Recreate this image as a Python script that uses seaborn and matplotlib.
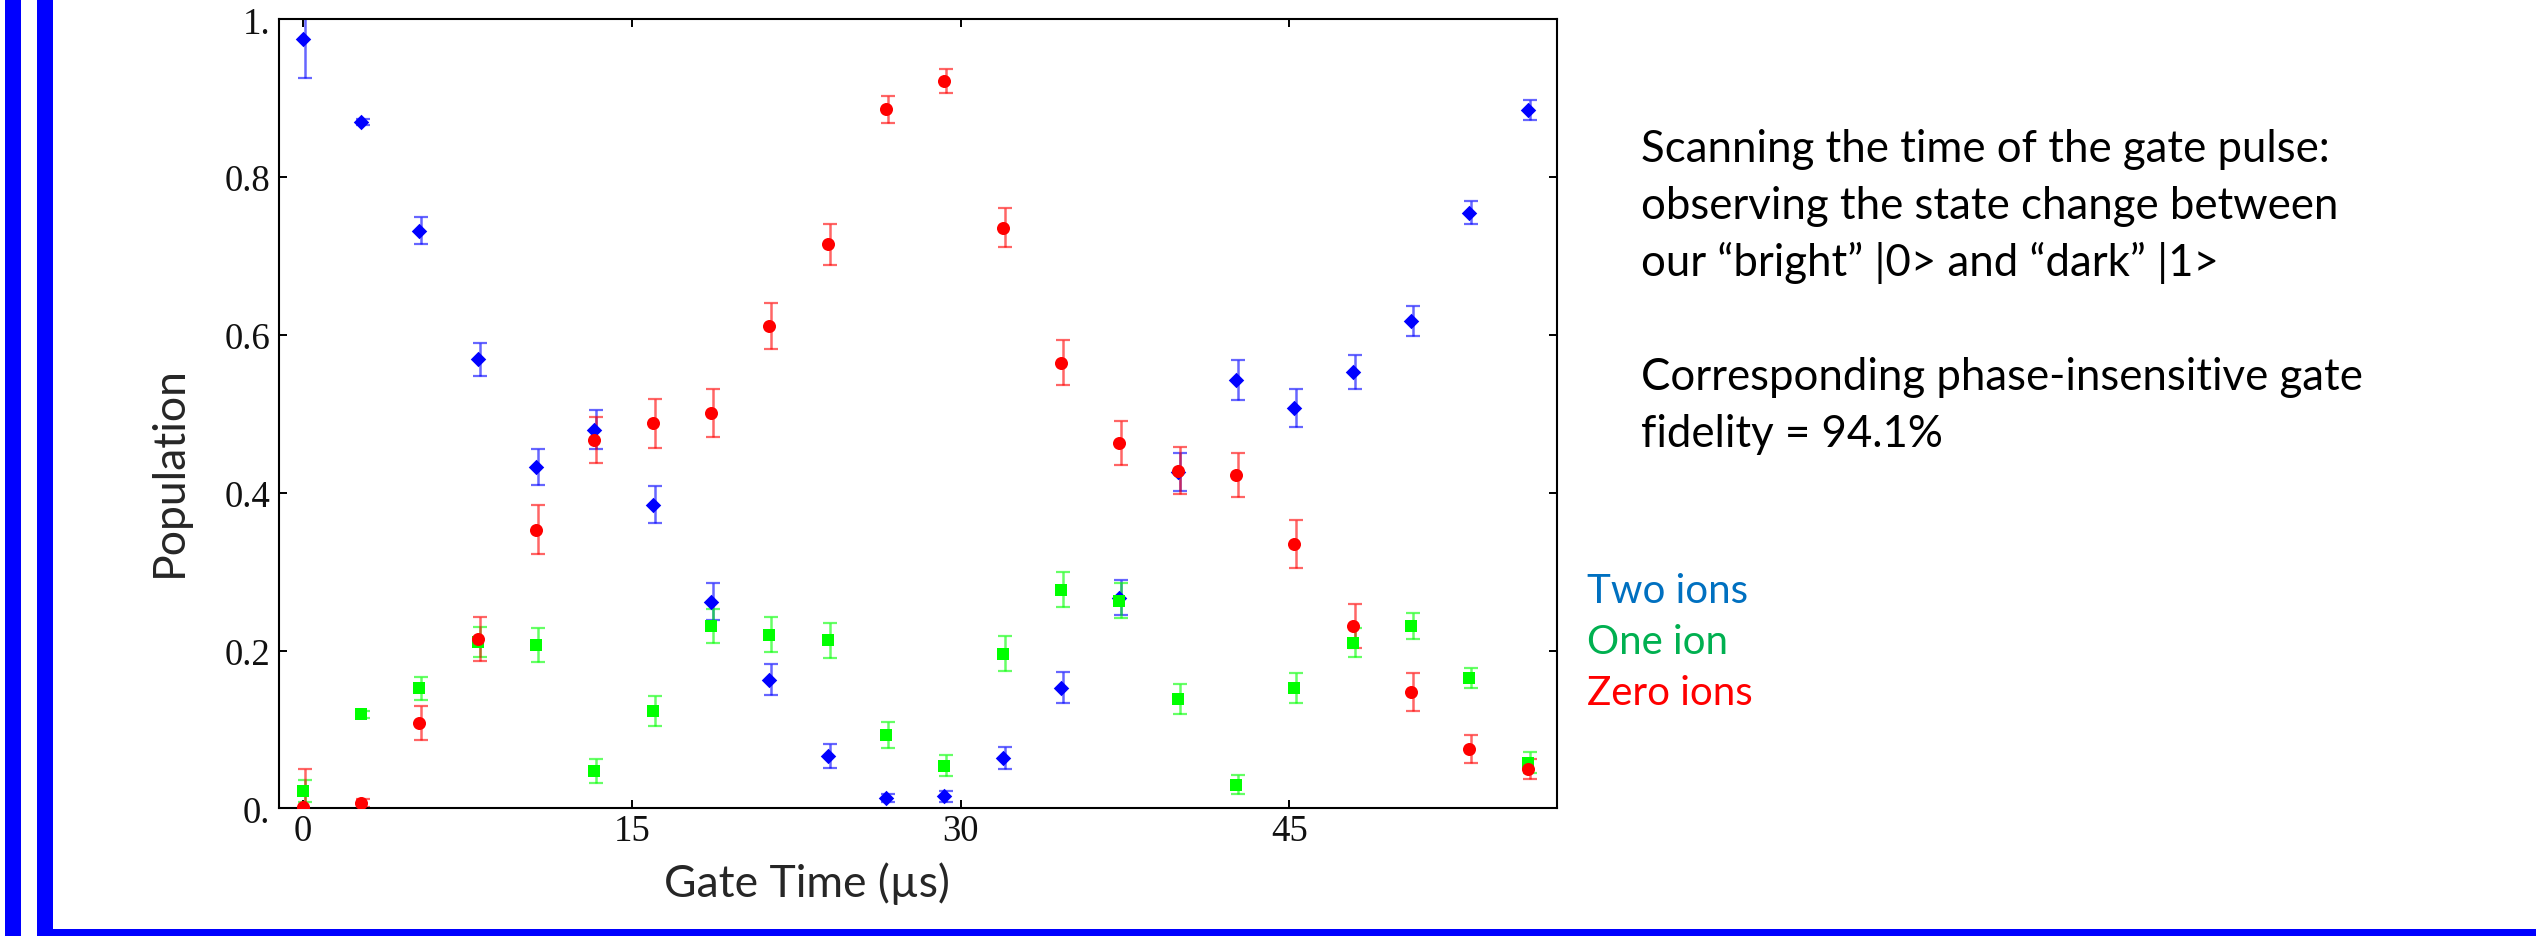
import matplotlib
matplotlib.use("Agg")
import matplotlib.pyplot as plt
from matplotlib.patches import Rectangle
from matplotlib.transforms import offset_copy
import seaborn as sns
import pandas as pd

# === DATA
gate_time = [0, 2.66, 5.32, 7.98, 10.64, 13.3, 15.96, 18.62, 21.28, 23.94, 26.6,
             29.26, 31.92, 34.58, 37.24, 39.9, 42.56, 45.22, 47.88, 50.54, 53.2, 55.86]

two_ions = [0.975, 0.870, 0.732, 0.569, 0.433, 0.480, 0.385, 0.262, 0.163, 0.066, 0.013,
            0.015, 0.064, 0.153, 0.267, 0.426, 0.543, 0.507, 0.553, 0.617, 0.755, 0.885]
two_err = [0.050, 0.004, 0.017, 0.021, 0.023, 0.025, 0.024, 0.023, 0.020, 0.015, 0.005,
           0.007, 0.014, 0.020, 0.022, 0.024, 0.025, 0.024, 0.022, 0.019, 0.015, 0.013]

one_ion = [0.022, 0.119, 0.152, 0.211, 0.207, 0.047, 0.123, 0.231, 0.220, 0.213, 0.093,
           0.054, 0.196, 0.277, 0.263, 0.139, 0.030, 0.152, 0.210, 0.231, 0.165, 0.058]
one_err = [0.014, 0.004, 0.015, 0.019, 0.021, 0.015, 0.019, 0.022, 0.022, 0.022, 0.016,
           0.013, 0.022, 0.022, 0.022, 0.019, 0.012, 0.019, 0.018, 0.017, 0.013, 0.013]

zero_ions = [0.002, 0.007, 0.108, 0.215, 0.353, 0.467, 0.488, 0.501, 0.611, 0.715, 0.886,
             0.922, 0.736, 0.565, 0.463, 0.428, 0.422, 0.335, 0.231, 0.147, 0.075, 0.050]
zero_err = [0.048, 0.005, 0.022, 0.028, 0.031, 0.029, 0.031, 0.031, 0.029, 0.026, 0.017,
            0.015, 0.025, 0.029, 0.028, 0.030, 0.028, 0.030, 0.028, 0.024, 0.018, 0.013]

series_names = ["Two ions", "One ion", "Zero ions"]
x_ticks = [0, 15, 30, 45]
x_ticklabels = ["0", "15", "30", "45"]
y_ticks = [0, 0.2, 0.4, 0.6, 0.8, 1.0]
y_ticklabels = ["0.", "0.2", "0.4", "0.6", "0.8", "1."]

desc_lines = ["Scanning the time of the gate pulse:",
              "observing the state change between",
              "our \u201cbright\u201d |0> and \u201cdark\u201d |1>",
              "",
              "Corresponding phase-insensitive gate",
              "fidelity = 94.1%"]

# === STYLE
marker_col = {"Two ions": "#0000FF", "One ion": "#00FF00", "Zero ions": "#FF0000"}
label_col = {"Two ions": "#0070C0", "One ion": "#00B050", "Zero ions": "#FF0000"}
markers = {"Two ions": "D", "One ion": "s", "Zero ions": "o"}
sizes = {"Two ions": 62, "One ion": 66, "Zero ions": 88}

sns.set_style("ticks")
plt.rcParams["font.family"] = ["Lato", "DejaVu Sans"]

W, H = 2536, 937
fig = plt.figure(figsize=(W / 100, H / 100), dpi=100)
ax = fig.add_axes([279.3 / W, 1 - 809.3 / H, (1557 - 279.3) / W, 789 / H])

df = pd.concat([
    pd.DataFrame({"time": gate_time, "pop": vals, "err": errs, "series": name})
    for name, vals, errs in zip(series_names,
                                [two_ions, one_ion, zero_ions],
                                [two_err, one_err, zero_err])
])

# error bars, nudged 2 px right as on the slide
trans = offset_copy(ax.transData, fig=fig, x=2, y=0, units="dots")
for name in series_names:
    sub = df[df["series"] == name]
    ax.errorbar(sub["time"], sub["pop"], yerr=sub["err"], fmt="none",
                ecolor=marker_col[name], alpha=0.6, elinewidth=1.8,
                capsize=5.0, capthick=1.6, transform=trans, zorder=2)

for name in series_names:
    sub = df[df["series"] == name]
    sns.scatterplot(data=sub, x="time", y="pop", marker=markers[name],
                    color=marker_col[name], s=sizes[name], linewidth=0,
                    legend=False, ax=ax, zorder=3)

ax.set_xlim(-1.07, 57.2)
ax.set_ylim(0, 1)
ax.set_xticks(x_ticks)
ax.set_xticklabels(x_ticklabels)
ax.set_yticks(y_ticks)
ax.set_yticklabels(y_ticklabels)
for lab in ax.get_xticklabels() + ax.get_yticklabels():
    lab.set_fontfamily("Liberation Serif")
    lab.set_fontsize(26.5)
ax.tick_params(direction="in", top=True, right=True, length=5.8, width=1.4,
               color="black", labelcolor="#111111")
ax.tick_params(axis="y", pad=6.5)
ax.tick_params(axis="x", pad=4)
for sp in ax.spines.values():
    sp.set_linewidth(1.5)
    sp.set_color("black")

ax.set_xlabel("Gate Time (\u00b5s)", fontsize=32, va="baseline")
ax.xaxis.set_label_coords((807 - 279.3) / 1277.7, (809.3 - 897) / 789)
ax.set_ylabel("Population", fontsize=32)
ax.yaxis.set_label_coords((190 - 279.3) / 1277.7, (809.3 - 472) / 789)

# slide text on the right
for i, line in enumerate(desc_lines):
    fig.text(1641 / W, 1 - (162 + 57 * i) / H, line, fontsize=31.5,
             va="baseline", ha="left", color="black")

for i, name in enumerate(series_names):
    fig.text(1587 / W, 1 - (603 + 51 * i) / H, name, fontsize=29,
             va="baseline", ha="left", color=label_col[name])

# blue slide frame
frame = "#0000FF"
fig.add_artist(Rectangle((5 / W, 0), 16 / W, 1, transform=fig.transFigure,
                         color=frame, lw=0))
fig.add_artist(Rectangle((37 / W, 0), 16 / W, 1, transform=fig.transFigure,
                         color=frame, lw=0))
fig.add_artist(Rectangle((37 / W, 0), 1 - 37 / W, 7 / H, transform=fig.transFigure,
                         color=frame, lw=0))

fig.savefig("out.png", dpi=100, facecolor="white")
